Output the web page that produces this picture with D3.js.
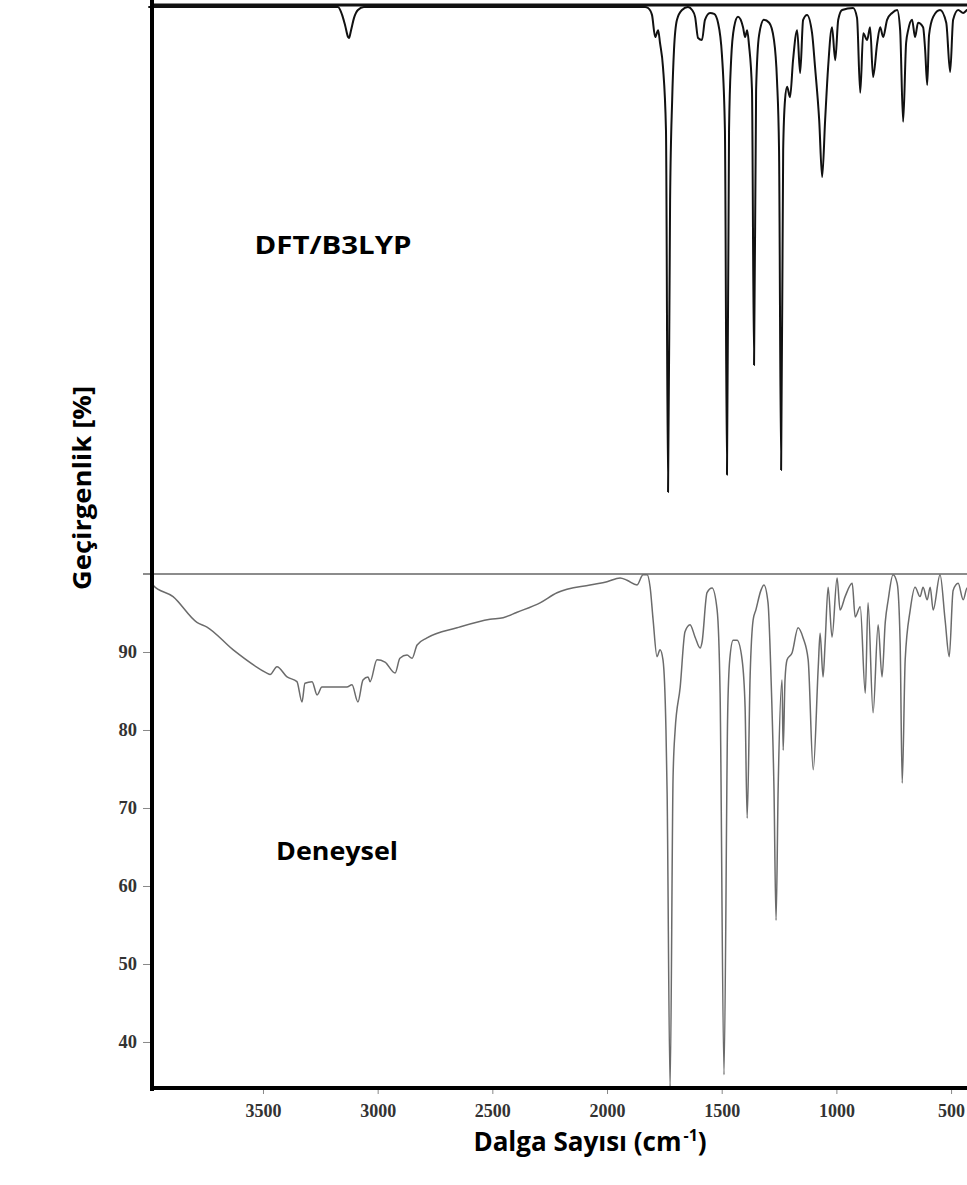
<!DOCTYPE html>
<html>
<head>
<meta charset="utf-8">
<script src="https://cdn.jsdelivr.net/npm/d3@7/dist/d3.min.js"></script>
<style>
  html, body { margin: 0; padding: 0; background: #fff; }
  svg { display: block; }
  .tick text { font-family: "Liberation Serif", "Times New Roman", serif; font-weight: bold; fill: #333; }
</style>
</head>
<body>
<svg id="chart" width="967" height="1185"></svg>
<script>
// Calculated (DFT/B3LYP) IR spectrum: [wavenumber cm-1, relative transmittance %]
const dftSpectrum = [
  [4000,100],[3173,100],[3155,98.4],[3142,96.3],[3129,93.9],[3125,93.7],[3116,95.3],[3103,97.8],[3086,99.4],[3060,100],
  [1834,100],[1821,99.8],[1804,98.4],[1790,93.9],[1777,95.3],[1769,92.7],[1756,87.8],[1743,75.1],[1734,1.6],[1725,60.9],
  [1716,81.1],[1708,91.3],[1695,97.4],[1673,99.4],[1647,100],[1629,99.4],[1616,98.0],[1603,93.7],[1586,93.3],[1573,97.4],
  [1551,98.8],[1533,98.6],[1516,96.8],[1499,90.3],[1486,75.1],[1477,5.1],[1468,75.1],[1459,89.2],[1446,95.9],[1429,98.0],
  [1407,95.9],[1398,93.9],[1389,95.3],[1381,92.3],[1368,83.2],[1359,27.4],[1350,83.2],[1337,94.3],[1316,97.4],[1293,96.8],
  [1272,93.3],[1259,85.2],[1250,71.0],[1241,6.1],[1232,71.0],[1224,81.1],[1215,83.8],[1202,81.7],[1189,89.2],[1171,95.3],
  [1158,86.6],[1145,97.4],[1128,98.4],[1106,94.7],[1093,87.8],[1075,77.1],[1062,65.5],[1049,77.1],[1036,87.8],[1019,95.9],
  [1005,89.2],[992,97.4],[975,99.4],[927,99.8],[910,97.8],[896,82.6],[883,94.7],[866,93.3],[853,95.9],[840,85.8],
  [822,92.7],[809,95.9],[796,93.9],[779,97.4],[757,98.8],[735,99.4],[722,95.3],[709,76.7],[696,92.7],[687,95.3],
  [670,97.4],[657,93.9],[644,96.8],[622,95.9],[613,91.3],[604,84.2],[596,94.3],[578,98.0],[548,99.4],[521,96.8],
  [504,86.8],[491,97.4],[469,99.4],[447,98.8],[430,99.4],[400,100]
];

// Measured (Deneysel) FT-IR spectrum: [wavenumber cm-1, transmittance %]
const expSpectrum = [
  [3985,98.8],[3980,98.6],[3892,97.1],[3788,93.8],[3744,93.2],[3631,90.3],[3483,87.3],[3469,87.1],[3439,88.1],[3395,86.8],
  [3352,86.2],[3330,83.6],[3317,86.0],[3286,86.2],[3264,84.5],[3243,85.5],[3134,85.5],[3112,85.8],[3086,83.6],[3064,86.4],
  [3042,86.8],[3033,86.2],[3003,89.0],[2968,88.7],[2924,87.3],[2903,89.2],[2872,89.6],[2850,89.2],[2828,90.9],[2785,91.8],
  [2654,93.1],[2510,94.2],[2453,94.4],[2392,95.1],[2292,96.3],[2218,97.6],[2074,98.6],[2000,99.0],[1943,99.5],[1913,99.2],
  [1869,98.6],[1843,99.9],[1825,99.9],[1812,98.3],[1799,94.1],[1782,89.4],[1769,90.3],[1756,89.0],[1743,80.0],[1738,72.0],
  [1725,33.5],[1712,74.0],[1703,80.0],[1681,85.5],[1660,92.6],[1638,93.5],[1616,91.9],[1594,90.5],[1586,91.2],[1564,97.6],
  [1542,98.2],[1520,95.4],[1507,84.7],[1490,35.8],[1474,82.0],[1465,89.0],[1450,91.5],[1433,91.5],[1411,89.0],[1398,82.9],
  [1389,68.7],[1376,87.0],[1363,94.1],[1351,95.4],[1329,97.9],[1316,98.6],[1298,96.3],[1285,86.8],[1272,72.3],[1263,55.6],
  [1254,72.3],[1237,86.4],[1232,77.4],[1224,86.4],[1215,89.0],[1193,89.9],[1167,93.1],[1145,91.8],[1123,89.0],[1101,74.9],
  [1079,88.1],[1071,92.4],[1058,86.8],[1049,91.2],[1036,98.3],[1019,91.9],[997,99.5],[984,95.4],[962,97.1],[931,98.8],
  [918,94.5],[896,95.8],[874,84.7],[862,96.3],[840,82.2],[818,93.5],[801,86.8],[787,93.8],[774,96.7],[753,99.9],
  [735,98.8],[722,91.2],[713,73.2],[700,89.0],[678,95.4],[657,98.3],[635,97.1],[622,98.3],[604,96.7],[591,98.3],
  [578,95.4],[548,99.9],[526,94.1],[508,89.4],[491,97.9],[469,98.8],[447,96.7],[430,98.2],[400,97.5]
];

const wavenumberTicks = [3500, 3000, 2500, 2000, 1500, 1000, 500];
const transmittanceTicks = [40, 50, 60, 70, 80, 90];

const svg = d3.select("#chart");

const x = d3.scaleLinear().domain([4000, 400]).range([148.3, 974]);
const yTop = d3.scaleLinear().domain([0, 100]).range([500, 7]);
const yExp = d3.scaleLinear().domain([34.1, 100]).range([1088, 574]);

// separator line at 100 % of the measured panel
svg.append("line")
  .attr("x1", 143).attr("x2", 967)
  .attr("y1", yExp(100)).attr("y2", yExp(100))
  .attr("stroke", "#8c8c8c").attr("stroke-width", 2);

// top frame line
svg.append("line")
  .attr("x1", 150).attr("x2", 967)
  .attr("y1", 5).attr("y2", 5)
  .attr("stroke", "#111").attr("stroke-width", 3);

// spectra
const lineTop = d3.line()
  .x(d => x(d[0])).y(d => yTop(d[1]))
  .curve(d3.curveMonotoneX);
const lineExp = d3.line()
  .x(d => x(d[0])).y(d => yExp(Math.max(d[1], 34.1)))
  .curve(d3.curveMonotoneX);

svg.append("path")
  .datum(dftSpectrum)
  .attr("d", lineTop)
  .attr("fill", "none")
  .attr("stroke", "#111")
  .attr("stroke-width", 2)
  .attr("stroke-linejoin", "round");

svg.append("path")
  .datum(expSpectrum)
  .attr("d", lineExp)
  .attr("fill", "none")
  .attr("stroke", "#6b6b6b")
  .attr("stroke-width", 1.5)
  .attr("stroke-linejoin", "round");

// axes
const xAxis = d3.axisBottom(x).tickValues(wavenumberTicks).tickFormat(d3.format("d"))
  .tickSize(5).tickPadding(10).tickSizeOuter(0);
const gx = svg.append("g").attr("transform", "translate(0,1089)").call(xAxis);
gx.select(".domain").remove();
gx.selectAll(".tick line").attr("stroke", "#888");
gx.selectAll(".tick text").attr("font-size", 18);

const yAxis = d3.axisLeft(yExp).tickValues(transmittanceTicks).tickFormat(d3.format("d"))
  .tickSize(7).tickPadding(6).tickSizeOuter(0);
const gy = svg.append("g").attr("transform", "translate(150,0)").call(yAxis);
gy.select(".domain").remove();
gy.selectAll(".tick line").attr("stroke", "#888");
gy.selectAll(".tick text").attr("font-size", 18.5);

// heavy axis lines
svg.append("line")
  .attr("x1", 152).attr("x2", 152).attr("y1", 0).attr("y2", 1091)
  .attr("stroke", "#000").attr("stroke-width", 4);
svg.append("line")
  .attr("x1", 150).attr("x2", 967).attr("y1", 1088).attr("y2", 1088)
  .attr("stroke", "#000").attr("stroke-width", 4);

// labels
const labelFont = "'Open Sans', 'Noto Sans', sans-serif";
function label(txt, xPos, yPos, width, rotate) {
  const t = svg.append("text")
    .attr("text-anchor", "middle")
    .attr("font-family", labelFont).attr("font-weight", "bold").attr("font-size", 25)
    .attr("fill", "#000")
    .attr("textLength", width).attr("lengthAdjust", "spacingAndGlyphs");
  if (rotate) t.attr("transform", `translate(${xPos},${yPos}) rotate(-90)`);
  else t.attr("x", xPos).attr("y", yPos);
  return t.text(txt);
}
label("Geçirgenlik [%]", 91, 488, 204, true);
label("DFT/B3LYP", 333, 254, 157, false);
label("Deneysel", 337, 860, 122, false);

const xt = svg.append("text")
  .attr("x", 590).attr("y", 1151)
  .attr("text-anchor", "middle")
  .attr("font-family", labelFont).attr("font-weight", "bold").attr("font-size", 26)
  .attr("fill", "#000");
xt.append("tspan").text("Dalga Sayısı (cm");
xt.append("tspan").attr("font-size", 16).attr("dy", -10).attr("dx", 2).text("-1");
xt.append("tspan").attr("dy", 10).text(")");
</script>
</body>
</html>
